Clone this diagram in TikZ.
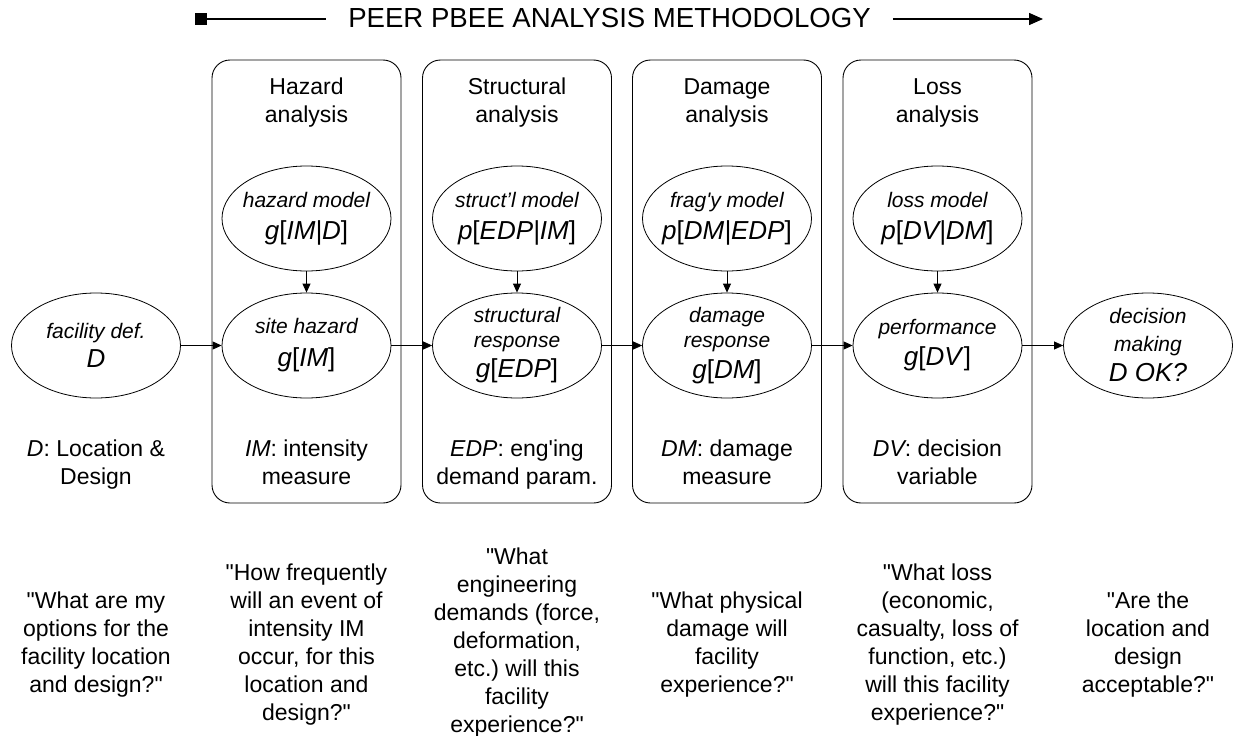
\documentclass[tikz,border=0pt]{standalone}
\usepackage{fontspec}
\setmainfont{Liberation Sans}
\usetikzlibrary{shapes.geometric,arrows.meta,positioning}
\frenchspacing

\newcommand{\lbrk}{\textup{[}}
\newcommand{\rbrk}{\textup{]}}
\newcommand{\qmark}{\textquotedbl}
\newcommand{\fml}[1]{{\fontsize{26}{30}\selectfont #1}}

\begin{document}
\begin{tikzpicture}
[x=1pt,y=-1pt,>={Triangle[length=9pt,width=8pt]},
stage/.style = {draw, line width=0.9pt, rounded corners=18pt, minimum width=189pt, minimum height=443pt, inner sep=0pt},
ell/.style = {draw, ellipse, line width=0.8pt, minimum width=169pt, minimum height=105pt, inner sep=-20pt, align=center, font=\fontsize{21}{25}\selectfont\itshape},
head/.style = {align=center, font=\fontsize{23}{28}\selectfont},
note/.style = {align=center, anchor=north, font=\fontsize{23}{28}\selectfont},
link/.style = {->, line width=0.8pt},
ttlline/.style = {line width=1.5pt},]
\useasboundingbox (0,0) rectangle (1235,736);
% title
\node (ttl) at (609.5,18)[font=\fontsize{27.6}{32}\selectfont, inner xsep=22pt] {PEER PBEE ANALYSIS METHODOLOGY};
\coordinate (tbeg) at (195,19);
\coordinate (tend) at (1043,19);
\draw [ttlline,{Square[length=12pt,width=12pt]}-] (tbeg)--(ttl.west |- tbeg);
\draw [ttlline,-{Triangle[length=14pt,width=12pt]}] (ttl.east |- tend)--(tend);
% stages
\node (haz) at (306.5,281.5)[stage] {};
\node (str) at (517,281.5)[stage] {};
\node (dam) at (727,281.5)[stage] {};
\node (los) at (937.5,281.5)[stage] {};
\node (hazttl) at (306.5,103)[head] {Hazard\\analysis};
\node (strttl) at (517,103)[head] {Structural\\analysis};
\node (damttl) at (727,103)[head] {Damage\\analysis};
\node (losttl) at (937.5,103)[head] {Loss\\analysis};
% models
\node (hazmod) at (306.5,218.5)[ell] {hazard model\\[7pt]\fml{g\lbrk IM|D\rbrk}};
\node (strmod) at (517,218.5)[ell] {struct’l model\\[7pt]\fml{p\lbrk EDP|IM\rbrk}};
\node (dammod) at (727,218.5)[ell] {frag\textquotesingle y model\\[7pt]\fml{p\lbrk DM|EDP\rbrk}};
\node (losmod) at (937.5,218.5)[ell] {loss model\\[7pt]\fml{p\lbrk DV|DM\rbrk}};
% chain
\node (fac) at (96,345.5)[ell] {facility def.\\[4pt]\fml{D}};
\node (site) at (306.5,345.5)[ell] {site hazard\\[8pt]\fml{g\lbrk IM\rbrk}};
\node (sresp) at (517,345.5)[ell] {structural\\response\\[5pt]\fml{g\lbrk EDP\rbrk}};
\node (dresp) at (727,345.5)[ell] {damage\\response\\[6pt]\fml{g\lbrk DM\rbrk}};
\node (perf) at (937.5,345.5)[ell] {performance\\[6pt]\fml{g\lbrk DV\rbrk}};
\node (dec) at (1148,345.5)[ell] {decision\\[3pt]making\\[5pt]\fml{D OK?}};
\draw [link] (hazmod)--(site);
\draw [link] (strmod)--(sresp);
\draw [link] (dammod)--(dresp);
\draw [link] (losmod)--(perf);
\draw [link] (fac)--(site);
\draw [link] (site)--(sresp);
\draw [link] (sresp)--(dresp);
\draw [link] (dresp)--(perf);
\draw [link] (perf)--(dec);
% variables
\node (facvar) at (96,436.5)[note] {{\itshape D}: Location \&\\Design};
\node (hazvar) at (306.5,436.5)[note] {{\itshape IM}: intensity\\measure};
\node (strvar) at (517,436.5)[note] {{\itshape EDP}: eng\textquotesingle ing\\demand param.};
\node (damvar) at (727,436.5)[note] {{\itshape DM}: damage\\measure};
\node (losvar) at (937.5,436.5)[note] {{\itshape DV}: decision\\variable};
% questions
\node (facq) at (96,588.5)[note] {\qmark What are my\\options for the\\facility location\\and design?\qmark};
\node (hazq) at (306.5,560.5)[note] {\qmark How frequently\\will an event of\\intensity IM\\occur, for this\\location and\\design?\qmark};
\node (strq) at (517,544.5)[note] {\qmark What\\engineering\\demands (force,\\deformation,\\etc.) will this\\facility\\experience?\qmark};
\node (damq) at (727,588.5)[note] {\qmark What physical\\damage will\\facility\\experience?\qmark};
\node (losq) at (937.5,560.5)[note] {\qmark What loss\\(economic,\\casualty, loss of\\function, etc.)\\will this facility\\experience?\qmark};
\node (decq) at (1148,588.5)[note] {\qmark Are the\\location and\\design\\acceptable?\qmark};
\end{tikzpicture}
\end{document}
